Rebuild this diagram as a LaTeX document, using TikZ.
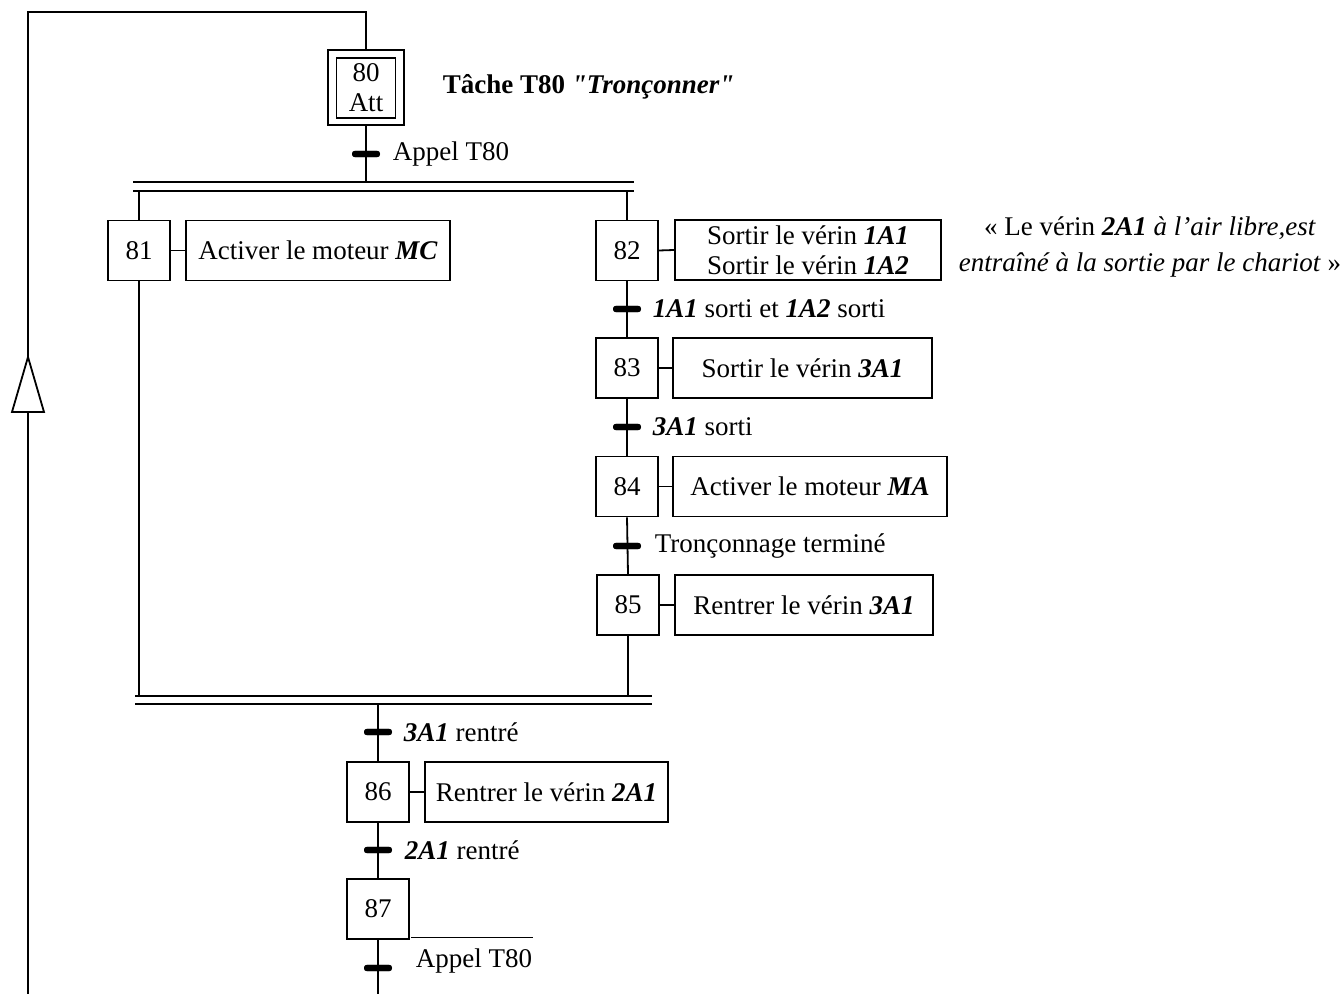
\documentclass[tikz,border=0pt]{standalone}
\usepackage{fontspec}
\setmainfont{Liberation Serif}
\newfontfamily\qfont{Liberation Serif}
\begin{document}
\begin{tikzpicture}[x=0.5pt,y=-0.5pt, line width=0.9pt,
  every node/.style={font=\fontsize{13.5}{15}\selectfont},
  stepbox/.style={draw, minimum width=31pt, minimum height=30pt, inner sep=0pt},
  actbox/.style={draw, minimum height=30pt, inner sep=2pt},
  trans/.style={fill=black, rounded corners=1.5pt, minimum width=14pt, minimum height=3.2pt, inner sep=0pt},
  tlabel/.style={anchor=west, inner sep=0pt},
  bar/.style={line width=0.9pt}]
\useasboundingbox (0,0) rectangle (1344,994);

% step 80
\node[draw, minimum width=38pt, minimum height=37.5pt] (s80o) at (366,87.5) {};
\node[draw, minimum width=29.5pt, minimum height=30pt, inner sep=0pt, align=center] (s80) at (366,88) {80\\Att};
\node[anchor=west, inner sep=0pt] (title) at (442,87) {\qfont\bfseries Tâche T80 \textit{"Tronçonner"}};

% transition 0
\node[trans] (t0) at (366,154) {};
\node[tlabel] (l0) at (392,154) {Appel T80};

% divergence bars
\coordinate (b1l) at (133,182); \coordinate (b1r) at (634,182);
\coordinate (b2l) at (133,191); \coordinate (b2r) at (634,191);
\draw[bar] (b1l) -- (b1r);
\draw[bar] (b2l) -- (b2r);

% branch 1
\node[stepbox] (s81) at (139,250.5) {81};
\node[actbox, minimum width=132pt] (a81) at (318,250.5) {Activer le moteur \textbf{\textit{MC}}};

% branch 2
\node[stepbox] (s82) at (627,250.5) {82};
\node[actbox, minimum width=133pt, align=center] (a82) at (808,250) {Sortir le vérin \textbf{\textit{1A1}}\\Sortir le vérin \textbf{\textit{1A2}}};
\node[trans] (t82) at (627,309) {};
\node[tlabel] (l82) at (652,309) {\textbf{\textit{1A1}} sorti et \textbf{\textit{1A2}} sorti};
\node[stepbox] (s83) at (627,368) {83};
\node[actbox, minimum width=129.5pt] (a83) at (802.5,368) {Sortir le vérin \textbf{\textit{3A1}}};
\node[trans] (t83) at (627,427) {};
\node[tlabel] (l83) at (652,427) {\textbf{\textit{3A1}} sorti};
\node[stepbox] (s84) at (627,486.5) {84};
\node[actbox, minimum width=137pt] (a84) at (810,486.5) {Activer le moteur \textbf{\textit{MA}}};
\node[trans] (t84) at (627,546) {};
\node[tlabel] (l84) at (654,546) {Tronçonnage terminé};
\node[stepbox] (s85) at (628,605) {85};
\node[actbox, minimum width=129pt] (a85) at (804,605) {Rentrer le vérin \textbf{\textit{3A1}}};

% note
\node[align=center, inner sep=0pt] (note) at (1150,247) {« Le vérin \textit{\textbf{2A1} à l’air libre,est}\\[3pt] \textit{entraîné à la sortie par le chariot} »};

% convergence bars
\coordinate (c1l) at (135,696); \coordinate (c1r) at (652,696);
\coordinate (c2l) at (135,704); \coordinate (c2r) at (652,704);
\draw[bar] (c1l) -- (c1r);
\draw[bar] (c2l) -- (c2r);

% after convergence
\node[trans] (t85) at (378,732) {};
\node[tlabel] (l85) at (403,732) {\textbf{\textit{3A1}} rentré};
\node[stepbox] (s86) at (378,792) {86};
\node[actbox, minimum width=121.5pt] (a86) at (546.5,792) {Rentrer le vérin \textbf{\textit{2A1}}};
\node[trans] (t86) at (378,850) {};
\node[tlabel] (l86) at (404,850) {\textbf{\textit{2A1}} rentré};
\node[stepbox] (s87) at (378,909) {87};
\node[trans] (t87) at (378,968) {};
\node[tlabel] (l87) at (415,961) {Appel T80};
\draw[line width=0.6pt] ([xshift=-2pt,yshift=5pt]l87.north west) -- ([yshift=5pt]l87.north east);

\coordinate (end) at (378,994);
\coordinate (lb) at (28,994);
\coordinate (lt) at (28,12);

% connectors
\draw (s80o.south) -- (s80o.south |- b1l);
\draw (s81.north |- b2l) -- (s81.north);
\draw (s82.north |- b2l) -- (s82.north);
\draw (s81.east) -- (a81.west);
\draw (s82.east) -- (a82.west);
\draw (s83.east) -- (a83.west);
\draw (s84.east) -- (a84.west);
\draw (s85.east) -- (a85.west);
\draw (s86.east) -- (a86.west);
\draw (s81.south) -- (s81.south |- c1l);
\draw (s82.south) -- (s83.north);
\draw (s83.south) -- (s84.north);
\draw (s84.south) -- (s85.north);
\draw (s85.south) -- (s85.south |- c1l);
\draw (s86.north |- c2l) -- (s86.north);
\draw (s86.south) -- (s87.north);
\draw (s87.south) -- (end);
\draw (lb) -- (lt) -- (s80o.north |- lt) -- (s80o.north);

% transitions drawn on top
\node[trans] at (t0) {};
\node[trans] at (t82) {};
\node[trans] at (t83) {};
\node[trans] at (t84) {};
\node[trans] at (t85) {};
\node[trans] at (t86) {};
\node[trans] at (t87) {};

% open arrow on the return line
\draw[fill=white] (28,357) -- (44,412) -- (12,412) -- cycle;
\end{tikzpicture}
\end{document}
